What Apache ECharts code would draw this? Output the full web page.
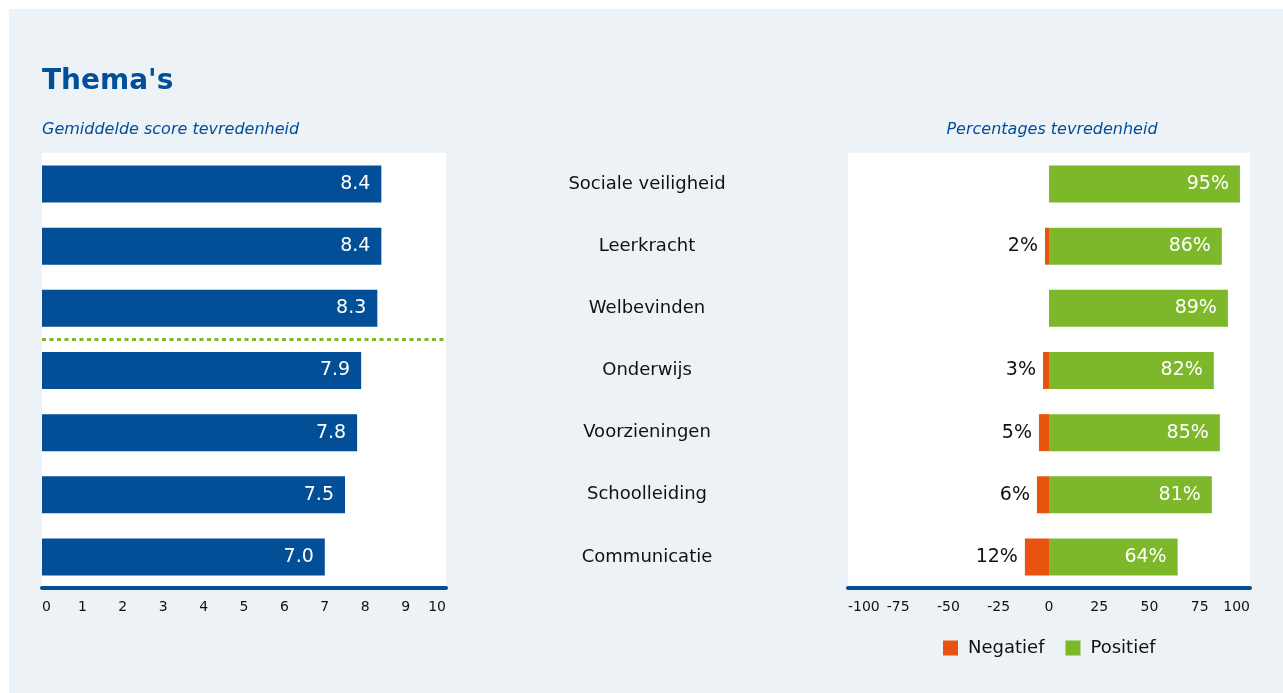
<!DOCTYPE html>
<html>
<head>
<meta charset="utf-8">
<title>Thema's</title>
<script src="https://cdn.jsdelivr.net/npm/echarts@6/dist/echarts.min.js"></script>
<style>
html,body{margin:0;padding:0;background:#fff;}
#panel{position:absolute;left:9px;top:9px;width:1274px;height:684px;background:#edf2f7;}
#main{width:1274px;height:684px;}
</style>
</head>
<body>
<div id="panel"><div id="main"></div></div>
<script>
// thema's en waarden
var themas = ['Sociale veiligheid', 'Leerkracht', 'Welbevinden', 'Onderwijs', 'Voorzieningen', 'Schoolleiding', 'Communicatie'];
var scores = [8.4, 8.4, 8.3, 7.9, 7.8, 7.5, 7.0];
var negatief = [0, 2, 0, 3, 5, 6, 12];
var positief = [95, 86, 89, 82, 85, 81, 64];
var scheidingNa = 3; // groene stippellijn na het 3e thema

var blauw = '#024e97';
var groen = '#7cb82a';
var oranje = '#e8540f';
var font = 'DejaVu Sans';

var negData = [];
for (var i = 0; i < negatief.length; i++) {
	negData.push(-negatief[i]);
}

var asLabel = {
	color: '#111',
	fontSize: 14,
	margin: 12,
	alignMinLabel: 'left',
	alignMaxLabel: 'right'
};

var myChart = echarts.init(document.getElementById('main'));
var option = {
	animation: false,
	textStyle: {fontFamily: font},
	title: [
		{text: "Thema's", left: 33, top: 59, padding: 0, textStyle: {fontSize: 28, fontWeight: 'bold', color: blauw, fontFamily: font}},
		{text: 'Gemiddelde score tevredenheid', left: 33, top: 113, padding: 0, textStyle: {fontSize: 16, fontStyle: 'italic', fontWeight: 'normal', color: blauw, fontFamily: font}},
		{text: 'Percentages tevredenheid', left: 1043, textAlign: 'center', top: 113, padding: 0, textStyle: {fontSize: 16, fontStyle: 'italic', fontWeight: 'normal', color: blauw, fontFamily: font}}
	],
	legend: {
		data: ['Negatief', 'Positief'],
		left: 934,
		top: 630,
		padding: 0,
		icon: 'rect',
		itemWidth: 15,
		itemHeight: 15,
		itemGap: 21,
		textStyle: {fontSize: 18, color: '#111', padding: [0, 0, 0, 5]}
	},
	grid: [
		{left: 33, right: 837, top: 144, bottom: 105, show: true, backgroundColor: '#fff', borderWidth: 0},
		{left: 839, right: 33, top: 144, bottom: 105, show: true, backgroundColor: '#fff', borderWidth: 0}
	],
	xAxis: [
		{
			gridIndex: 0, type: 'value', position: 'bottom', min: 0, max: 10, interval: 1,
			axisLine: {show: true, onZero: false, lineStyle: {color: blauw, width: 4}},
			axisTick: {show: false},
			splitLine: {show: false},
			axisLabel: asLabel
		},
		{
			gridIndex: 1, type: 'value', position: 'bottom', min: -100, max: 100, interval: 25,
			axisLine: {show: true, onZero: false, lineStyle: {color: blauw, width: 4}},
			axisTick: {show: false},
			splitLine: {show: false},
			axisLabel: asLabel
		}
	],
	yAxis: [
		{gridIndex: 0, type: 'category', inverse: true, data: themas, axisLine: {show: false, onZero: false}, axisTick: {show: false}, axisLabel: {show: false}},
		{
			gridIndex: 1, type: 'category', inverse: true, data: themas,
			axisLine: {show: false, onZero: false}, axisTick: {show: false},
			axisLabel: {color: '#111', fontSize: 18, align: 'center', margin: 201}
		},
		// hulp-as voor de scheidingslijn
		{gridIndex: 0, type: 'value', min: 0, max: themas.length, inverse: true, show: false, axisLine: {onZero: false}}
	],
	series: [
		{
			name: 'Score',
			type: 'bar',
			xAxisIndex: 0,
			yAxisIndex: 0,
			barWidth: 37,
			itemStyle: {color: blauw},
			label: {
				show: true, position: 'insideRight', distance: 11, color: '#fff', fontSize: 19,
				formatter: function (p) { return p.value.toFixed(1); }
			},
			data: scores
		},
		{
			name: 'scheiding',
			type: 'line',
			xAxisIndex: 0,
			yAxisIndex: 2,
			data: [],
			markLine: {
				silent: true,
				symbol: 'none',
				label: {show: false},
				lineStyle: {color: groen, width: 3, type: [4, 3.5]},
				data: [{yAxis: scheidingNa}]
			}
		},
		{
			name: 'Negatief',
			type: 'bar',
			stack: 'pct',
			xAxisIndex: 1,
			yAxisIndex: 1,
			barWidth: 37,
			itemStyle: {color: oranje},
			label: {
				show: true, position: 'left', distance: 7, color: '#111', fontSize: 19,
				formatter: function (p) { return p.value == 0 ? '' : Math.abs(p.value) + '%'; }
			},
			data: negData
		},
		{
			name: 'Positief',
			type: 'bar',
			stack: 'pct',
			xAxisIndex: 1,
			yAxisIndex: 1,
			barWidth: 37,
			itemStyle: {color: groen},
			label: {
				show: true, position: 'insideRight', distance: 11, color: '#fff', fontSize: 19,
				formatter: '{c}%'
			},
			data: positief
		}
	]
};
myChart.setOption(option);
</script>
</body>
</html>
